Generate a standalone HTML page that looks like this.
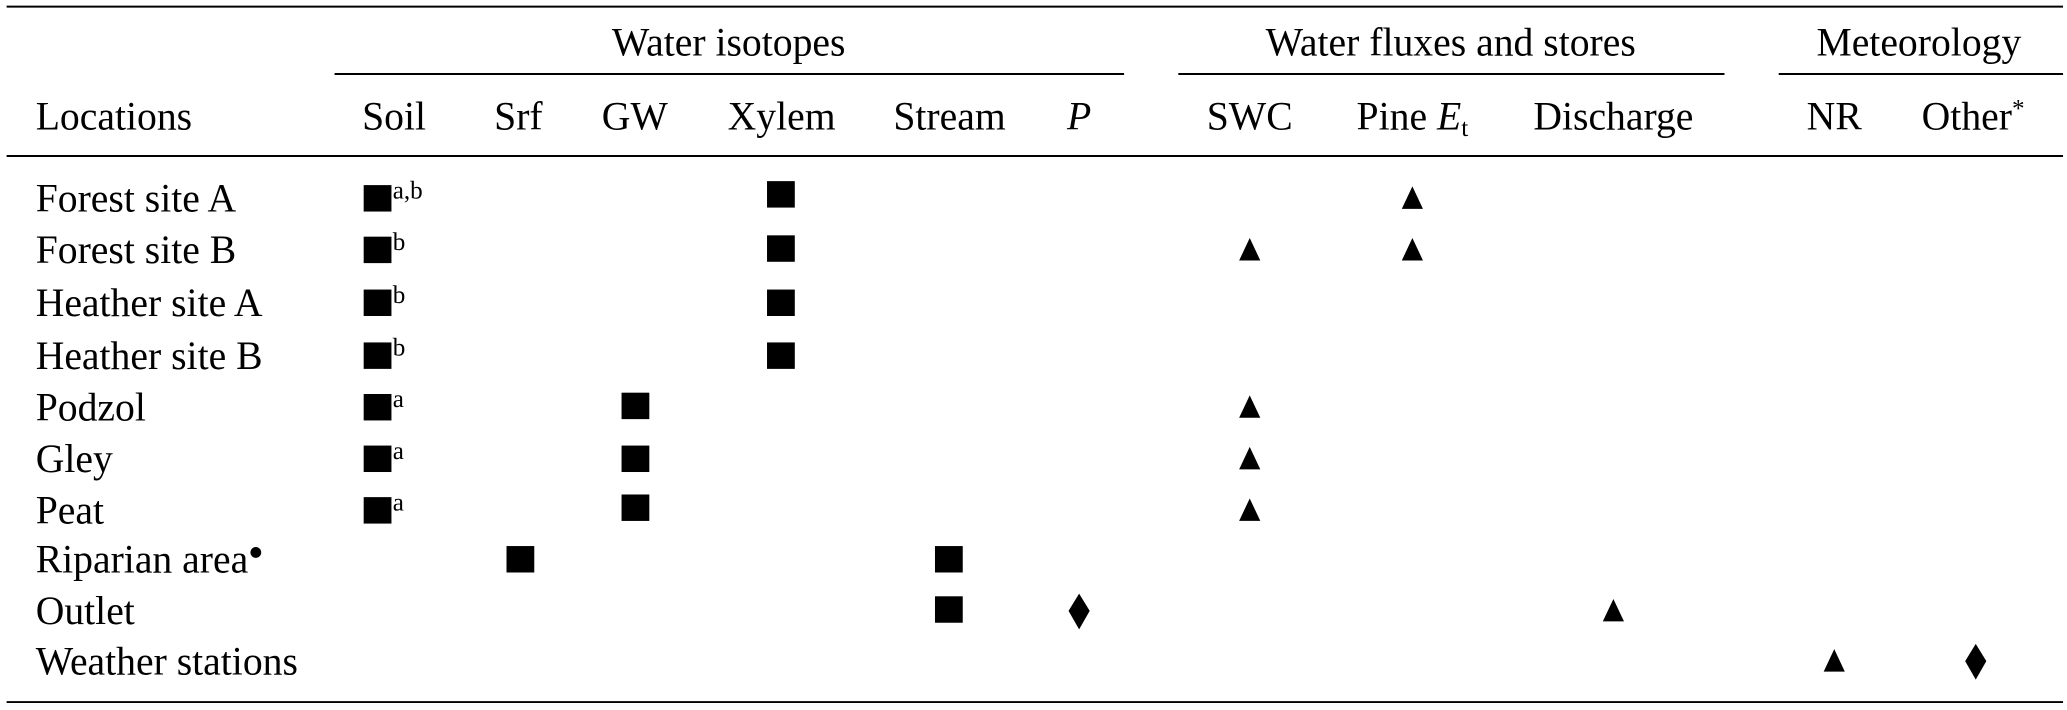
<!DOCTYPE html>
<html><head><meta charset="utf-8"><style>
html,body{margin:0;padding:0;background:#fff;}
svg{display:block;}
text{font-family:"Liberation Serif",serif;font-size:30px;fill:#000;}
.c{text-anchor:middle;}
.s{font-size:19px;}
</style></head><body>
<svg width="2067" height="710" viewBox="0 0 1563 537" preserveAspectRatio="none" xmlns="http://www.w3.org/2000/svg">
<g stroke="#000" stroke-width="1.5">
<line x1="5" y1="5" x2="1560" y2="5"/>
<line x1="253" y1="56" x2="850" y2="56"/>
<line x1="891" y1="56" x2="1304" y2="56"/>
<line x1="1345" y1="56" x2="1560" y2="56"/>
<line x1="5" y1="118" x2="1560" y2="118"/>
<line x1="5" y1="531" x2="1560" y2="531"/>
</g>
<text class="c" x="551" y="42">Water isotopes</text>
<text class="c" x="1097" y="42">Water fluxes and stores</text>
<text class="c" x="1451" y="42">Meteorology</text>
<text x="27" y="98">Locations</text>
<text class="c" x="298" y="98">Soil</text>
<text class="c" x="392" y="98">Srf</text>
<text class="c" x="480" y="98">GW</text>
<text class="c" x="591" y="98">Xylem</text>
<text class="c" x="718" y="98">Stream</text>
<text class="c" x="816" y="98" font-style="italic">P</text>
<text class="c" x="945" y="98">SWC</text>
<text class="c" x="1068" y="98">Pine <tspan font-style="italic">E</tspan><tspan class="s" dy="5">t</tspan></text>
<text class="c" x="1220" y="98">Discharge</text>
<text class="c" x="1387" y="98">NR</text>
<text class="c" x="1492" y="98">Other<tspan class="s" dy="-10">*</tspan></text>

<g>
<text x="27" y="160">Forest site A</text>
<text x="27" y="199">Forest site B</text>
<text x="27" y="239">Heather site A</text>
<text x="27" y="279">Heather site B</text>
<text x="27" y="318">Podzol</text>
<text x="27" y="357">Gley</text>
<text x="27" y="396">Peat</text>
<text x="27" y="433">Riparian area<tspan class="s" dy="-10">●</tspan></text>
<text x="27" y="472">Outlet</text>
<text x="27" y="510">Weather stations</text>
</g>

<g fill="#000">
<rect x="275" y="140" width="21" height="20"/>
<rect x="275" y="179" width="21" height="20"/>
<rect x="275" y="219" width="21" height="20"/>
<rect x="275" y="259" width="21" height="20"/>
<rect x="275" y="298" width="21" height="20"/>
<rect x="275" y="337" width="21" height="20"/>
<rect x="275" y="376" width="21" height="20"/>
<rect x="580" y="137" width="21" height="20"/>
<rect x="580" y="178" width="21" height="20"/>
<rect x="580" y="219" width="21" height="20"/>
<rect x="580" y="259" width="21" height="20"/>
<rect x="470" y="297" width="21" height="20"/>
<rect x="470" y="337" width="21" height="20"/>
<rect x="470" y="374" width="21" height="20"/>
<rect x="383" y="413" width="21" height="20"/>
<rect x="707" y="413" width="21" height="20"/>
<rect x="707" y="451" width="21" height="20"/>
<polygon points="816,449 824,462 816,476 808,462"/>
<polygon points="1494,487 1502,500 1494,514 1486,500"/>
<polygon points="1068,141 1076,158 1060,158"/>
<polygon points="1068,180 1076,197 1060,197"/>
<polygon points="945,180 953,197 937,197"/>
<polygon points="945,299 953,316 937,316"/>
<polygon points="945,338 953,355 937,355"/>
<polygon points="945,377 953,394 937,394"/>
<polygon points="1220,453 1228,470 1212,470"/>
<polygon points="1387,491 1395,508 1379,508"/>
</g>
<g>
<text class="s" x="297" y="150">a,b</text>
<text class="s" x="297" y="189">b</text>
<text class="s" x="297" y="229">b</text>
<text class="s" x="297" y="269">b</text>
<text class="s" x="297" y="308">a</text>
<text class="s" x="297" y="347">a</text>
<text class="s" x="297" y="386">a</text>
</g>
</svg>
</body></html>
